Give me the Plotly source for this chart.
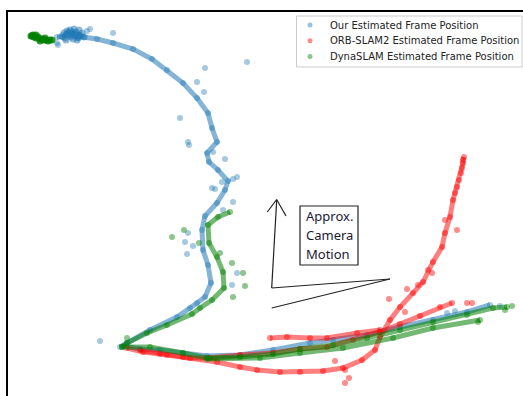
import plotly.graph_objects as go

# Estimated frame positions (image-plane x, depth-plane y), one list per trajectory
our_x = [57, 63, 66, 68, 70, 72, 74, 76, 78, 80, 83, 97, 113, 133, 152, 167, 183, 197,
         208, 212, 217, 207, 209, 218, 228, 225, 217, 205, 202, 203, 208, 211, 205, 197,
         190, 177, 150, 127, 120, 124, 140, 160, 183, 207, 240, 273, 310, 333, 367, 400,
         433, 467, 490]
our_y = [37, 37, 34, 32, 35, 31, 36, 33, 38, 35, 37, 39, 43, 49, 59, 70, 83, 98,
         113, 128, 142, 153, 162, 170, 181, 190, 203, 216, 230, 250, 265, 283, 297, 303,
         308, 317, 330, 343, 347, 346, 349, 350, 353, 356, 355, 350, 343, 340, 335, 327,
         320, 312, 305]
our_start_x = [62, 64, 65, 67, 68, 70, 71, 72, 74, 75, 76, 78, 79, 80, 82, 84, 66, 73, 77]
our_start_y = [36, 33, 38, 31, 35, 30, 37, 33, 29, 35, 32, 38, 30, 36, 33, 37, 40, 39, 40]
our_out_x = [90, 87, 113, 57, 58, 247, 205, 197, 204, 180, 188, 189, 213, 225, 237, 233,
             222, 212, 215, 233, 223, 188, 185, 193, 187, 237, 232, 100, 447, 455, 500]
our_out_y = [29, 31, 33, 43, 45, 62, 68, 82, 92, 118, 142, 145, 152, 159, 177, 179,
             182, 188, 189, 202, 210, 233, 242, 246, 254, 273, 285, 341, 313, 311, 306]

# ORB-SLAM2: main sweep, middle run and upper-left run
orb_a_x = [127, 143, 160, 183, 217, 240, 257, 280, 300, 323, 343, 362, 375, 380, 390, 400,
           413, 423, 433, 442, 445, 450, 453, 455, 457, 459, 461, 462, 463, 463, 464]
orb_a_y = [348, 352, 354, 357, 362, 367, 370, 372, 372, 371, 368, 360, 350, 337, 320, 307,
           293, 282, 262, 247, 233, 217, 200, 193, 187, 180, 173, 168, 163, 160, 157]
orb_b_x = [140, 167, 190, 210, 240, 273, 300, 327, 353, 380, 400, 420, 440, 452]
orb_b_y = [350, 355, 358, 358, 355, 353, 349, 347, 340, 332, 324, 316, 307, 303]
orb_c_x = [270, 287, 310, 327, 357, 380]
orb_c_y = [338, 337, 338, 338, 333, 330]
orb_out_x = [407, 418, 389, 405, 335, 345, 349, 345, 457, 445, 428, 432, 467, 472]
orb_out_y = [289, 285, 299, 312, 361, 370, 378, 383, 230, 220, 270, 273, 303, 303]

# DynaSLAM: start cluster, upper branch, lower runs
dyna_start_x = [31, 32, 33, 34, 36, 36, 38, 40, 40, 42, 44, 45, 46, 48, 50, 52]
dyna_start_y = [36, 36, 35, 37, 35, 38, 37, 39, 41, 39, 40, 38, 40, 41, 40, 40]
dyna_a_x = [230, 218, 208, 209, 217, 223, 224, 212, 200, 192, 167, 147, 127, 122]
dyna_a_y = [212, 217, 225, 243, 257, 272, 288, 300, 308, 314, 325, 333, 343, 347]
dyna_b_x = [122, 150, 183, 207, 240, 273, 300, 333, 367, 400, 433, 467, 493, 507]
dyna_b_y = [347, 347, 353, 358, 357, 354, 349, 345, 338, 330, 322, 315, 308, 307]
dyna_c_x = [207, 260, 300, 343, 393, 433, 480]
dyna_c_y = [359, 358, 353, 348, 338, 328, 320]
dyna_out_x = [172, 184, 199, 220, 232, 243, 245, 233, 127, 478, 512, 505]
dyna_out_y = [237, 230, 243, 253, 263, 273, 286, 297, 338, 322, 306, 310]

series_names = ["Our Estimated Frame Position",
                "ORB-SLAM2 Estimated Frame Position",
                "DynaSLAM Estimated Frame Position"]

BLUE_L, BLUE_M = "rgba(31,119,180,0.55)", "rgba(31,119,180,0.4)"
RED_L, RED_M = "rgba(255,0,0,0.5)", "rgba(255,0,0,0.45)"
GREEN_L, GREEN_M = "rgba(0,128,0,0.55)", "rgba(0,128,0,0.45)"

fig = go.Figure()


def track(x, y, lc, mc, group):
    fig.add_trace(go.Scatter(
        x=x, y=y, mode="lines+markers", legendgroup=group, showlegend=False,
        line=dict(color=lc, width=5), marker=dict(color=mc, size=6),
        hoverinfo="skip"))


def cloud(x, y, mc, name, group, size=6):
    fig.add_trace(go.Scatter(
        x=x, y=y, mode="markers", name=name, legendgroup=group, showlegend=False,
        marker=dict(color=mc, size=size), hoverinfo="skip"))


cloud(our_out_x, our_out_y, BLUE_M, series_names[0], "our")
cloud(our_start_x, our_start_y, "rgba(31,119,180,0.5)", series_names[0], "our", size=7)
track(our_x, our_y, BLUE_L, BLUE_M, "our")

cloud(orb_out_x, orb_out_y, RED_M, series_names[1], "orb")
for xs, ys in [(orb_a_x, orb_a_y), (orb_b_x, orb_b_y), (orb_c_x, orb_c_y)]:
    track(xs, ys, RED_L, RED_M, "orb")

cloud(dyna_out_x, dyna_out_y, GREEN_M, series_names[2], "dyna")
cloud(dyna_start_x, dyna_start_y, "rgba(0,128,0,0.8)", series_names[2], "dyna", size=7)
for xs, ys in [(dyna_a_x, dyna_a_y), (dyna_b_x, dyna_b_y), (dyna_c_x, dyna_c_y)]:
    track(xs, ys, GREEN_L, GREEN_M, "dyna")

# hand-drawn camera motion sketch
ink = dict(color="#222222", width=1.2)
sketch = [
    (271.7, 288, 276.7, 200),
    (267.3, 212, 276.7, 199.5),
    (276.7, 199.5, 286, 216),
    (271.7, 288, 390, 279),
    (271.7, 308, 390, 279),
]
for x0, y0, x1, y1 in sketch:
    fig.add_shape(type="line", x0=x0, y0=y0, x1=x1, y1=y1, xref="x", yref="y", line=ink)
fig.add_shape(type="rect", x0=300, y0=206, x1=358, y1=265, xref="x", yref="y",
              line=dict(color="#222222", width=1.2))
for txt, yy in [("Approx.", 216), ("Camera", 235), ("Motion", 254)]:
    fig.add_annotation(x=304, y=yy, xref="x", yref="y", text=txt, showarrow=False,
                       xanchor="left", yanchor="middle",
                       font=dict(family="Noto Sans", size=13, color="#1a1a33"))

# legend panel (compact, matplotlib-style)
fig.add_shape(type="rect", x0=296.5, y0=16, x1=522, y1=67, xref="x", yref="y",
              line=dict(color="#cccccc", width=1), fillcolor="rgba(255,255,255,0.85)",
              layer="above")
legend_keys = ["rgba(31,119,180,0.45)", "rgba(255,0,0,0.45)", "rgba(0,128,0,0.45)"]
for i, (name, col) in enumerate(zip(series_names, legend_keys)):
    cy = 25 + i * 15.8
    fig.add_shape(type="circle", x0=307.5, x1=312.5, y0=cy - 2.5, y1=cy + 2.5,
                  xref="x", yref="y", line=dict(width=0), fillcolor=col, layer="above")
    fig.add_annotation(x=328, y=cy, xref="x", yref="y", text=name, showarrow=False,
                       xanchor="left", yanchor="middle",
                       font=dict(family="DejaVu Sans", size=10, color="#222222"))

fig.update_layout(
    width=523, height=396,
    margin=dict(l=8, r=0, t=12, b=0),
    paper_bgcolor="white", plot_bgcolor="white",
    xaxis=dict(range=[8, 523], side="top", showline=True, linecolor="black",
               linewidth=1.5, showticklabels=False, ticks="", showgrid=False,
               zeroline=False),
    yaxis=dict(range=[396, 12], showline=True, linecolor="black", linewidth=1.5,
               showticklabels=False, ticks="", showgrid=False, zeroline=False),
    showlegend=False,
)

fig.write_html("out.html")
